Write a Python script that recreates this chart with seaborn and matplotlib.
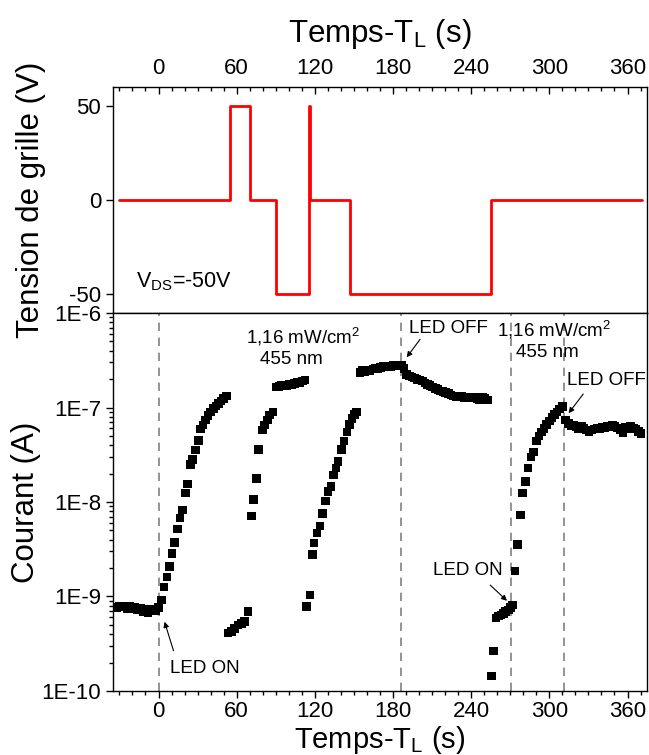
import numpy as np
import pandas as pd
import matplotlib
matplotlib.use("Agg")
import matplotlib.pyplot as plt
import matplotlib.ticker as mticker
import seaborn as sns

# ---------------- data ----------------
# gate voltage program (step corners: value holds from each time to the next)
gate_t = [-30, 55, 70, 90, 115.5, 116.5, 147, 255, 371]
gate_v = [0, 50, 0, -50, 50, 0, -50, 0, 0]

# drain current vs time
t_base = [-32, -30, -28, -26, -24, -22, -20, -18, -16, -14, -12, -10, -8, -6, -4, -2, 0]
i_base = [7.6e-10, 7.8e-10, 7.7e-10, 7.9e-10, 7.5e-10, 7.8e-10, 7.4e-10, 7.6e-10, 7.2e-10,
          7.5e-10, 6.9e-10, 7.3e-10, 6.8e-10, 7.2e-10, 7.4e-10, 7.0e-10, 7.6e-10]

t_rise1 = [2.5, 4.1, 6.4, 8.5, 10.3, 12.3, 14.4, 16.4, 18.2, 20.5, 22.3, 24.5, 26, 28.5,
           30.5, 32.3, 34, 36, 38, 40, 42, 44, 46, 48, 50, 52]
i_rise1 = [9.2e-10, 1.26e-9, 1.6e-9, 2.07e-9, 2.87e-9, 3.74e-9, 5.2e-9, 6.8e-9, 8.2e-9,
           1.24e-8, 1.55e-8, 2.5e-8, 2.8e-8, 3.55e-8, 4.5e-8, 5.9e-8, 6.5e-8, 7.4e-8,
           8.2e-8, 9.0e-8, 9.7e-8, 1.04e-7, 1.1e-7, 1.17e-7, 1.24e-7, 1.32e-7]

t_pos = [53.3, 55.9, 58.5, 61, 63.6, 66.2, 68.7]
i_pos = [4.1e-10, 4.25e-10, 4.6e-10, 5.0e-10, 5.2e-10, 5.4e-10, 6.9e-10]

t_zero1 = [71.3, 73.1, 75.1, 76.9, 79.7, 81.5, 83.5, 85.4, 88]
i_zero1 = [7.1e-9, 1.07e-8, 1.78e-8, 3.6e-8, 5.8e-8, 6.5e-8, 7.4e-8, 8.3e-8, 9.0e-8]

t_neg1 = [90.5, 92.5, 94.5, 96.5, 98.5, 100.5, 102.5, 104.5, 106.5, 108.5, 110.5, 112.5]
i_neg1 = [1.64e-7, 1.68e-7, 1.7e-7, 1.69e-7, 1.72e-7, 1.75e-7, 1.74e-7, 1.8e-7, 1.85e-7,
          1.83e-7, 1.9e-7, 1.95e-7]

t_zero2 = [113.6, 116.2, 118, 119.5, 121.8, 123.8, 125.9, 128.2, 130.2, 132.3, 134.1, 136.2,
           137.9, 140.5, 142.5, 144.8, 146.5, 148.5, 150.5, 152]
i_zero2 = [7.8e-10, 1.04e-9, 2.8e-9, 3.7e-9, 4.7e-9, 5.6e-9, 7.6e-9, 1.02e-8, 1.3e-8, 1.45e-8,
           1.93e-8, 2.3e-8, 2.67e-8, 3.6e-8, 4.4e-8, 5.5e-8, 6.6e-8, 7.6e-8, 8.4e-8, 9.0e-8]

t_neg2 = [154.6, 156.5, 158.5, 160.5, 162.5, 164.5, 166.5, 168.5, 170.5, 172.5, 174.5, 176.5,
          178.5, 180.5, 182.5, 184.5, 186.5]
i_neg2 = [2.35e-7, 2.45e-7, 2.4e-7, 2.5e-7, 2.48e-7, 2.55e-7, 2.6e-7, 2.55e-7, 2.65e-7, 2.7e-7,
          2.68e-7, 2.75e-7, 2.72e-7, 2.78e-7, 2.8e-7, 2.76e-7, 2.82e-7]

t_dark1 = [188.5, 190.5, 192.5, 194.5, 196.5, 198.5, 200.5, 202.5, 204.5, 206.5, 208.5, 210.5,
           212.5, 214.5, 216.5, 218.5, 220.5, 222.5, 224.5, 226.5, 228.5, 230.5, 232.5, 234.5,
           236.5, 238.5, 240.5, 242.5, 244.5, 246.5, 248.5, 250.5, 252.5]
i_dark1 = [2.6e-7, 2.25e-7, 2.15e-7, 2.1e-7, 2.05e-7, 1.98e-7, 1.95e-7, 1.9e-7, 1.82e-7, 1.75e-7,
           1.7e-7, 1.65e-7, 1.6e-7, 1.55e-7, 1.5e-7, 1.48e-7, 1.44e-7, 1.4e-7, 1.36e-7, 1.32e-7,
           1.31e-7, 1.29e-7, 1.3e-7, 1.28e-7, 1.27e-7, 1.29e-7, 1.26e-7, 1.28e-7, 1.25e-7,
           1.22e-7, 1.27e-7, 1.24e-7, 1.2e-7]

t_zero3 = [255.4, 257.2, 259.2, 261, 262.8, 264.6, 266.5, 268.5, 270.3, 271.8, 273.8, 275.6,
           277.7, 279.5, 281.5, 283.6, 285.9, 287.9, 290, 292, 294, 296, 298, 300, 302, 304,
           306, 308, 310]
i_zero3 = [1.44e-10, 2.65e-10, 5.9e-10, 6.2e-10, 6.4e-10, 6.6e-10, 6.9e-10, 7.2e-10, 7.6e-10,
           8.1e-10, 1.87e-9, 3.56e-9, 7.3e-9, 1.24e-8, 1.64e-8, 2.28e-8, 3.0e-8, 3.4e-8, 4.4e-8,
           5.0e-8, 5.5e-8, 6.0e-8, 6.6e-8, 7.2e-8, 7.8e-8, 8.4e-8, 9.0e-8, 9.6e-8, 1.02e-7]

t_dark2 = [312.5, 314.5, 316.5, 318.5, 320.5, 322.5, 324.5, 326.5, 328.5, 330.5, 332.5, 334.5,
           336.5, 338.5, 340.5, 342.5, 344.5, 346.5, 348.5, 350.5, 352.5, 354.5, 356.5, 358.5,
           360.5, 362.5, 364.5, 366.5, 368.5, 370.5]
i_dark2 = [7.4e-8, 6.8e-8, 6.4e-8, 6.5e-8, 6.2e-8, 6.0e-8, 6.3e-8, 6.1e-8, 5.8e-8, 5.6e-8,
           5.8e-8, 5.9e-8, 6.1e-8, 6.0e-8, 6.2e-8, 6.1e-8, 6.3e-8, 6.2e-8, 6.5e-8, 6.3e-8,
           6.1e-8, 5.8e-8, 5.4e-8, 6.2e-8, 6.0e-8, 6.3e-8, 6.1e-8, 5.9e-8, 5.6e-8, 5.3e-8]

led_lines = [0, 186.5, 270.5, 311.5]
xticks = [0, 60, 120, 180, 240, 300, 360]
vticks = [-50, 0, 50]
iticks = [1e-10, 1e-9, 1e-8, 1e-7, 1e-6]

# ---------------- style ----------------
sns.set_theme(style="white")
plt.rcParams["font.family"] = ["Liberation Sans", "DejaVu Sans"]
plt.rcParams["axes.unicode_minus"] = False
plt.rcParams["mathtext.default"] = "regular"
for k in ("text.color", "axes.labelcolor", "xtick.color", "ytick.color", "axes.edgecolor"):
    plt.rcParams[k] = "black"

TICK_FS = 16
LABEL_FS = 22.5
ANN_FS = 13.5

fig = plt.figure(figsize=(6.49, 7.55), dpi=100)
ax1 = fig.add_axes([0.174, 0.5854, 0.823, 0.2993])
ax2 = fig.add_axes([0.174, 0.0848, 0.823, 0.5006])

for ax in (ax1, ax2):
    for sp in ax.spines.values():
        sp.set_color("black")
        sp.set_linewidth(1.0)
        sp.set_visible(True)

# ---------- top panel: gate voltage ----------
gate_df = pd.DataFrame({"t": gate_t, "v": gate_v})
sns.lineplot(data=gate_df, x="t", y="v", ax=ax1, color="#ff0000", lw=2.0,
             drawstyle="steps-post", sort=False, estimator=None)
ax1.set_xlim(-35, 375)
ax1.set_ylim(-60, 60)
ax1.xaxis.set_ticks_position("top")
ax1.xaxis.set_label_position("top")
ax1.set_xticks(xticks)
ax1.xaxis.set_minor_locator(mticker.MultipleLocator(10))
ax1.set_yticks(vticks)
ax1.set_yticklabels([str(v) for v in vticks])
ax1.tick_params(axis="x", which="major", direction="in", length=5, width=1,
                labelsize=TICK_FS, top=True, bottom=False, labeltop=True, labelbottom=False, pad=6)
ax1.tick_params(axis="x", which="minor", direction="in", length=3, width=1, top=True, bottom=False)
ax1.tick_params(axis="y", which="major", direction="out", length=5, width=1,
                labelsize=TICK_FS, left=True, right=False)
ax1.set_xlabel("Temps-T$_\\mathregular{L}$ (s)", fontsize=LABEL_FS)
ax1.xaxis.label.set_va("baseline")
ax1.xaxis.set_label_coords(0.5, 1.199)
ax1.set_ylabel("Tension de grille (V)", fontsize=LABEL_FS)
ax1.yaxis.label.set_va("center")
ax1.yaxis.set_label_coords(-0.153, 0.5)
ax1.text(-17, -43.5, "V$_\\mathregular{DS}$=-50V", fontsize=15.5, ha="left", va="center")

# ---------- bottom panel: current ----------
segs = [(t_base, i_base), (t_rise1, i_rise1), (t_pos, i_pos), (t_zero1, i_zero1),
        (t_neg1, i_neg1), (t_zero2, i_zero2), (t_neg2, i_neg2), (t_dark1, i_dark1),
        (t_zero3, i_zero3), (t_dark2, i_dark2)]
cur_df = pd.DataFrame({"t": np.concatenate([s[0] for s in segs]),
                       "i": np.concatenate([s[1] for s in segs])})
ax2.set_yscale("log")
for x in led_lines:
    ax2.axvline(x, color="#808080", lw=1.2, ls=(0, (5, 4)), zorder=1)
sns.scatterplot(data=cur_df, x="t", y="i", ax=ax2, marker="s", s=38, color="black",
                edgecolor="none", linewidth=0, zorder=3)
ax2.set_xlim(-35, 375)
ax2.set_ylim(1e-10, 1e-6)
ax2.set_xticks(xticks)
ax2.xaxis.set_minor_locator(mticker.MultipleLocator(10))
ax2.yaxis.set_major_locator(mticker.FixedLocator(iticks))
ax2.yaxis.set_major_formatter(mticker.FuncFormatter(lambda v, p: "1E%d" % int(round(np.log10(v)))))
ax2.yaxis.set_minor_locator(mticker.LogLocator(base=10, subs=np.arange(2, 10) * 1.0, numticks=20))
ax2.yaxis.set_minor_formatter(mticker.NullFormatter())
ax2.tick_params(axis="x", which="major", direction="out", length=5, width=1,
                labelsize=TICK_FS, bottom=True, top=False, pad=2)
ax2.tick_params(axis="x", which="minor", direction="out", length=3, width=1, bottom=True, top=False)
ax2.tick_params(axis="y", which="major", direction="out", length=5, width=1,
                labelsize=TICK_FS, left=True, right=False)
ax2.tick_params(axis="y", which="minor", direction="out", length=3, width=1, left=True, right=False)
ax2.set_xlabel("Temps-T$_\\mathregular{L}$ (s)", fontsize=21)
ax2.xaxis.label.set_va("baseline")
ax2.xaxis.set_label_coords(0.5, -0.151)
ax2.set_ylabel("Courant (A)", fontsize=LABEL_FS)
ax2.yaxis.label.set_va("center")
ax2.yaxis.set_label_coords(-0.163, 0.5)

# annotations
ax2.text(67.5, 5.6e-7, "1,16 mW/cm$^\\mathregular{2}$", fontsize=ANN_FS, ha="left", va="center")
ax2.text(77.7, 3.2e-7, "455 nm", fontsize=ANN_FS, ha="left", va="center")
ax2.text(259.8, 6.6e-7, "1,16 mW/cm$^\\mathregular{2}$", fontsize=ANN_FS, ha="left", va="center")
ax2.text(274.6, 3.8e-7, "455 nm", fontsize=ANN_FS, ha="left", va="center")

arrow = dict(arrowstyle="-|>", color="black", lw=0.8, mutation_scale=8, shrinkA=0, shrinkB=0)
ax2.text(192.3, 6.9e-7, "LED OFF", fontsize=ANN_FS, ha="left", va="center")
ax2.annotate("", xy=(190.5, 3.4e-7), xytext=(200.8, 5.27e-7), arrowprops=arrow)
ax2.text(313.8, 1.95e-7, "LED OFF", fontsize=ANN_FS, ha="left", va="center")
ax2.annotate("", xy=(314.8, 8.7e-8), xytext=(326, 1.39e-7), arrowprops=arrow)
ax2.text(8.5, 1.75e-10, "LED ON", fontsize=ANN_FS, ha="left", va="center")
ax2.annotate("", xy=(4.6, 5.4e-10), xytext=(11.5, 2.67e-10), arrowprops=arrow)
ax2.text(210.8, 1.9e-9, "LED ON", fontsize=ANN_FS, ha="left", va="center")
ax2.annotate("", xy=(267.5, 9.0e-10), xytext=(254.6, 1.32e-9), arrowprops=arrow)

fig.savefig("out.png", dpi=100)
